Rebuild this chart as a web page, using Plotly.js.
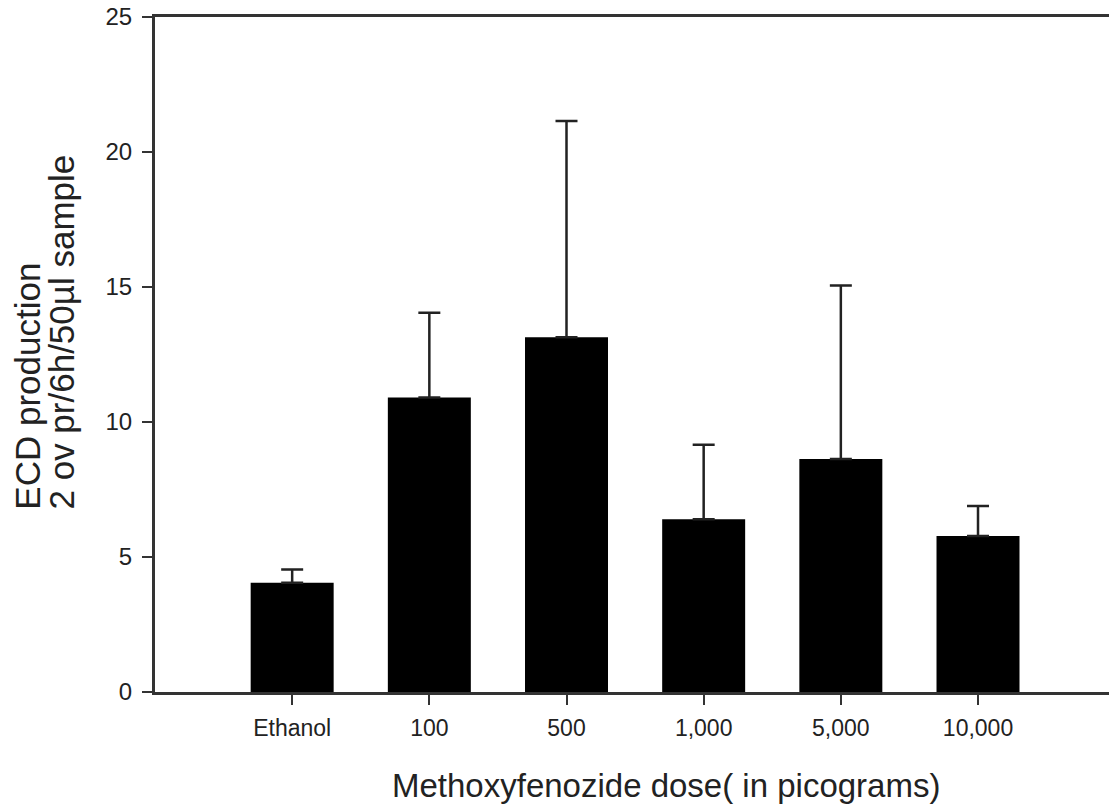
<!DOCTYPE html>
<html>
<head>
<meta charset="utf-8">
<script src="https://cdn.plot.ly/plotly-3.0.1.min.js"></script>
<style>
  html, body { margin: 0; padding: 0; background: #fff; }
  #chart { width: 1109px; height: 809px; }
</style>
</head>
<body>
<div id="chart"></div>
<script>
// Methoxyfenozide dose groups
const doses = ["Ethanol", "100", "500", "1,000", "5,000", "10,000"];
// Mean ECD production per group
const meanECD = [4.05, 10.91, 13.14, 6.40, 8.63, 5.78];
// Upper end of each error bar (mean + SE)
const upperECD = [4.54, 14.05, 21.15, 9.16, 15.06, 6.89];

const errPlus = meanECD.map((m, i) => +(upperECD[i] - m).toFixed(2));
const errMinus = meanECD.map(() => 0);

const ink = "#222222";
const font = "Liberation Sans, Arial, sans-serif";

const trace = {
  type: "bar",
  x: doses,
  y: meanECD,
  width: 0.605,
  marker: { color: "#000000", line: { width: 0 } },
  error_y: {
    type: "data",
    symmetric: false,
    array: errPlus,
    arrayminus: errMinus,
    color: ink,
    thickness: 2.5,
    width: 11
  },
  hoverinfo: "x+y"
};

const layout = {
  width: 1109,
  height: 809,
  margin: { l: 155, r: 0, t: 17, b: 117 },
  paper_bgcolor: "#ffffff",
  plot_bgcolor: "#ffffff",
  showlegend: false,
  font: { family: font, color: ink },
  xaxis: {
    type: "category",
    range: [-1, 5.955],
    showgrid: false,
    zeroline: false,
    showline: true,
    linecolor: "#333333",
    linewidth: 3,
    mirror: true,
    ticks: "outside",
    ticklen: 10,
    tickwidth: 2,
    tickcolor: "#333333",
    ticklabelstandoff: 3,
    tickfont: { size: 23, color: ink, family: font }
  },
  yaxis: {
    range: [0, 25],
    tickvals: [0, 5, 10, 15, 20, 25],
    ticktext: ["0", "5", "10", "15", "20", "25"],
    showgrid: false,
    zeroline: false,
    showline: true,
    linecolor: "#333333",
    linewidth: 3,
    ticks: "outside",
    ticklen: 10,
    tickwidth: 2,
    tickcolor: "#333333",
    ticklabelstandoff: 5,
    tickfont: { size: 24, color: ink, family: font }
  },
  annotations: [
    {
      // x-axis title
      text: "Methoxyfenozide dose( in picograms)",
      xref: "paper", yref: "paper",
      x: 0.5356, y: -0.139,
      xanchor: "center", yanchor: "middle",
      showarrow: false,
      font: { size: 33, color: ink, family: font }
    },
    {
      // y-axis title, first line
      text: "ECD production",
      xref: "paper", yref: "paper",
      x: -0.134, y: 0.2667,
      xanchor: "center", yanchor: "bottom",
      textangle: -90,
      showarrow: false,
      font: { size: 35, color: ink, family: font }
    },
    {
      // y-axis title, second line
      text: "2 ov pr/6h/50µl sample",
      xref: "paper", yref: "paper",
      x: -0.0985, y: 0.2667,
      xanchor: "center", yanchor: "bottom",
      textangle: -90,
      showarrow: false,
      font: { size: 35, color: ink, family: font }
    }
  ]
};

Plotly.newPlot("chart", [trace], layout, { displayModeBar: false, staticPlot: true });
</script>
</body>
</html>
